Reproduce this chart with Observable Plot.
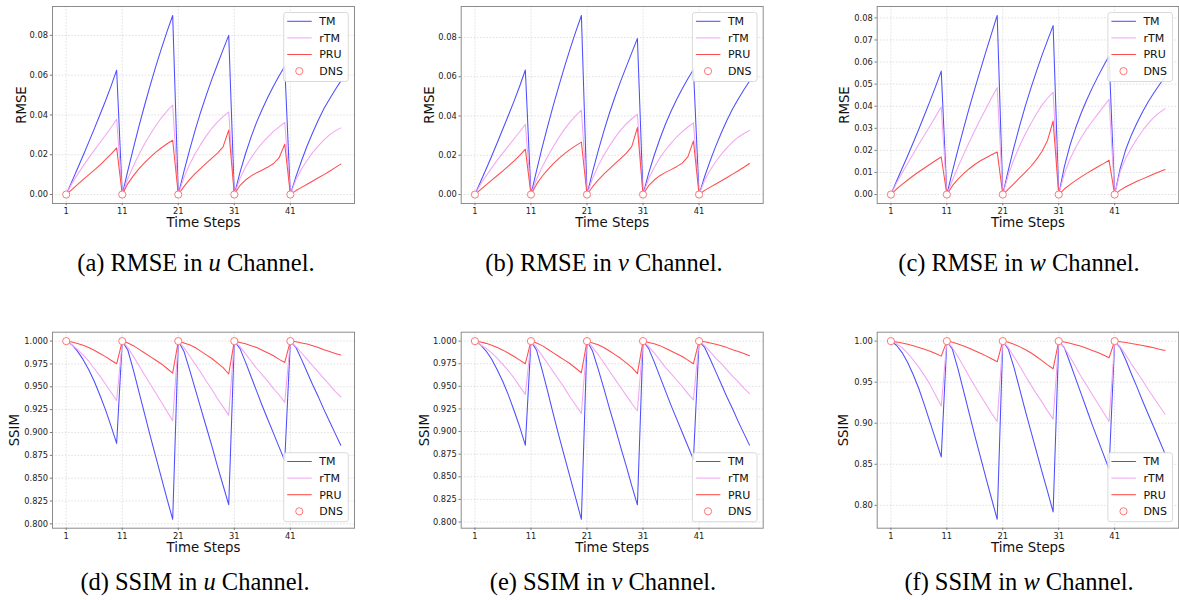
<!DOCTYPE html>
<html><head><meta charset="utf-8">
<script src="https://cdn.jsdelivr.net/npm/d3@7"></script>
<script src="https://cdn.jsdelivr.net/npm/@observablehq/plot@0.6"></script>
<style>
body{margin:0;background:#fff;}
#root{position:relative;width:1179px;height:600px;overflow:hidden;background:#fff;}
#root > svg{position:absolute;}
</style></head><body><div id="root"></div>
<script>
const steps = [1,2,3,4,5,6,7,8,9,10,11,12,13,14,15,16,17,18,19,20,21,22,23,24,25,26,27,28,29,30,31,32,33,34,35,36,37,38,39,40,41,42,43,44,45,46,47,48,49,50];
const xTicks = [1, 11, 21, 31, 41];
const seriesNames = ["TM", "rTM", "PRU", "DNS"];
const dnsSteps = [1, 11, 21, 31, 41];
const dnsRmse = [0, 0, 0, 0, 0];
const dnsSsim = [1, 1, 1, 1, 1];

const yTicksRmse = [0, 0.02, 0.04, 0.06, 0.08];
const yTicksRmseW = [0, 0.01, 0.02, 0.03, 0.04, 0.05, 0.06, 0.07, 0.08];
const yTicksSsim = [0.8, 0.825, 0.85, 0.875, 0.9, 0.925, 0.95, 0.975, 1.0];
const yTicksSsimW = [0.8, 0.85, 0.9, 0.95, 1.0];

const tmRmseU = [
0, 0.0065, 0.0130, 0.0195, 0.0262, 0.0330, 0.0400, 0.0470, 0.0545, 0.0625,
0, 0.0120, 0.0235, 0.0345, 0.0450, 0.0550, 0.0645, 0.0735, 0.0820, 0.0900,
0, 0.0115, 0.0222, 0.0322, 0.0415, 0.0500, 0.0580, 0.0655, 0.0728, 0.0800,
0, 0.0110, 0.0205, 0.0290, 0.0365, 0.0430, 0.0490, 0.0545, 0.0597, 0.0645,
0, 0.0090, 0.0170, 0.0245, 0.0312, 0.0375, 0.0432, 0.0480, 0.0527, 0.0570];
const rtmRmseU = [
0, 0.0055, 0.0100, 0.0143, 0.0183, 0.0222, 0.0260, 0.0298, 0.0337, 0.0378,
0, 0.0080, 0.0145, 0.0203, 0.0255, 0.0303, 0.0347, 0.0387, 0.0420, 0.0450,
0, 0.0085, 0.0150, 0.0205, 0.0252, 0.0295, 0.0333, 0.0365, 0.0392, 0.0415,
0, 0.0080, 0.0138, 0.0185, 0.0225, 0.0260, 0.0290, 0.0317, 0.0340, 0.0362,
0, 0.0075, 0.0128, 0.0172, 0.0212, 0.0245, 0.0275, 0.0300, 0.0320, 0.0335];
const pruRmseU = [
0, 0.0025, 0.0050, 0.0075, 0.0099, 0.0123, 0.0148, 0.0175, 0.0203, 0.0235,
0, 0.0055, 0.0095, 0.0130, 0.0160, 0.0188, 0.0213, 0.0235, 0.0255, 0.0273,
0, 0.0040, 0.0075, 0.0105, 0.0132, 0.0158, 0.0183, 0.0208, 0.0240, 0.0324,
0, 0.0045, 0.0073, 0.0094, 0.0110, 0.0123, 0.0138, 0.0156, 0.0185, 0.0253,
0, 0.0020, 0.0036, 0.0052, 0.0068, 0.0084, 0.0100, 0.0117, 0.0135, 0.0153];

const tmRmseV = [
0, 0.0065, 0.0130, 0.0196, 0.0265, 0.0335, 0.0405, 0.0477, 0.0553, 0.0634,
0, 0.0122, 0.0240, 0.0350, 0.0455, 0.0555, 0.0651, 0.0743, 0.0830, 0.0912,
0, 0.0115, 0.0222, 0.0322, 0.0414, 0.0498, 0.0576, 0.0650, 0.0723, 0.0795,
0, 0.0108, 0.0200, 0.0283, 0.0358, 0.0424, 0.0484, 0.0539, 0.0590, 0.0637,
0, 0.0092, 0.0173, 0.0248, 0.0316, 0.0380, 0.0437, 0.0487, 0.0534, 0.0577];
const rtmRmseV = [
0, 0.0052, 0.0095, 0.0136, 0.0175, 0.0212, 0.0248, 0.0284, 0.0320, 0.0358,
0, 0.0078, 0.0140, 0.0195, 0.0245, 0.0291, 0.0333, 0.0370, 0.0402, 0.0430,
0, 0.0082, 0.0146, 0.0200, 0.0247, 0.0290, 0.0328, 0.0360, 0.0386, 0.0409,
0, 0.0080, 0.0138, 0.0186, 0.0227, 0.0262, 0.0293, 0.0320, 0.0344, 0.0365,
0, 0.0073, 0.0125, 0.0168, 0.0206, 0.0239, 0.0268, 0.0292, 0.0311, 0.0326];
const pruRmseV = [
0, 0.0025, 0.0049, 0.0073, 0.0097, 0.0121, 0.0146, 0.0172, 0.0200, 0.0231,
0, 0.0053, 0.0093, 0.0127, 0.0157, 0.0184, 0.0208, 0.0230, 0.0249, 0.0267,
0, 0.0040, 0.0074, 0.0104, 0.0131, 0.0157, 0.0183, 0.0210, 0.0245, 0.0341,
0, 0.0045, 0.0074, 0.0096, 0.0113, 0.0127, 0.0142, 0.0160, 0.0192, 0.0273,
0, 0.0021, 0.0038, 0.0054, 0.0070, 0.0087, 0.0104, 0.0121, 0.0139, 0.0158];

const tmRmseW = [
0, 0.0060, 0.0118, 0.0176, 0.0236, 0.0297, 0.0360, 0.0424, 0.0490, 0.0559,
0, 0.0105, 0.0205, 0.0300, 0.0392, 0.0480, 0.0565, 0.0648, 0.0730, 0.0811,
0, 0.0112, 0.0215, 0.0310, 0.0398, 0.0480, 0.0557, 0.0630, 0.0698, 0.0765,
0, 0.0125, 0.0222, 0.0300, 0.0368, 0.0428, 0.0483, 0.0534, 0.0582, 0.0627,
0, 0.0120, 0.0205, 0.0270, 0.0325, 0.0375, 0.0420, 0.0460, 0.0497, 0.0532];
const rtmRmseW = [
0, 0.0052, 0.0098, 0.0142, 0.0185, 0.0228, 0.0270, 0.0312, 0.0354, 0.0396,
0, 0.0065, 0.0125, 0.0182, 0.0237, 0.0290, 0.0341, 0.0390, 0.0438, 0.0484,
0, 0.0090, 0.0160, 0.0220, 0.0273, 0.0321, 0.0365, 0.0405, 0.0436, 0.0464,
0, 0.0095, 0.0160, 0.0212, 0.0257, 0.0297, 0.0332, 0.0365, 0.0398, 0.0431,
0, 0.0105, 0.0165, 0.0212, 0.0253, 0.0290, 0.0322, 0.0349, 0.0371, 0.0389];
const pruRmseW = [
0, 0.0025, 0.0046, 0.0066, 0.0085, 0.0103, 0.0120, 0.0137, 0.0154, 0.0170,
0, 0.0040, 0.0070, 0.0095, 0.0117, 0.0136, 0.0153, 0.0167, 0.0180, 0.0193,
0, 0.0025, 0.0050, 0.0075, 0.0100, 0.0127, 0.0158, 0.0195, 0.0245, 0.0333,
0, 0.0025, 0.0045, 0.0063, 0.0080, 0.0096, 0.0111, 0.0126, 0.0140, 0.0155,
0, 0.0020, 0.0035, 0.0048, 0.0060, 0.0071, 0.0082, 0.0093, 0.0103, 0.0113];

const tmSsimU = [
1, 0.996, 0.989, 0.980, 0.969, 0.956, 0.941, 0.925, 0.907, 0.888,
1, 0.990, 0.968, 0.944, 0.920, 0.896, 0.873, 0.850, 0.827, 0.805,
1, 0.989, 0.969, 0.948, 0.927, 0.906, 0.885, 0.863, 0.842, 0.821,
1, 0.992, 0.977, 0.961, 0.945, 0.929, 0.914, 0.899, 0.884, 0.869,
1, 0.993, 0.980, 0.966, 0.952, 0.939, 0.925, 0.912, 0.899, 0.886];
const rtmSsimU = [
1, 0.996, 0.991, 0.985, 0.978, 0.970, 0.962, 0.953, 0.944, 0.935,
1, 0.993, 0.983, 0.973, 0.963, 0.953, 0.943, 0.933, 0.923, 0.913,
1, 0.993, 0.984, 0.975, 0.966, 0.956, 0.947, 0.937, 0.928, 0.919,
1, 0.994, 0.986, 0.978, 0.970, 0.963, 0.956, 0.948, 0.941, 0.933,
1, 0.994, 0.987, 0.980, 0.973, 0.966, 0.959, 0.952, 0.945, 0.939];
const pruSsimU = [
1, 0.9990, 0.9975, 0.9955, 0.9930, 0.9900, 0.9865, 0.9830, 0.9790, 0.9752,
1, 0.9980, 0.9950, 0.9910, 0.9870, 0.9830, 0.9790, 0.9750, 0.9700, 0.9650,
1, 0.9980, 0.9960, 0.9930, 0.9890, 0.9850, 0.9810, 0.9760, 0.9710, 0.9640,
1, 0.9985, 0.9970, 0.9950, 0.9930, 0.9900, 0.9870, 0.9840, 0.9800, 0.9766,
1, 0.9992, 0.9980, 0.9968, 0.9950, 0.9930, 0.9905, 0.9885, 0.9865, 0.9847];

const tmSsimV = [
1, 0.996, 0.989, 0.980, 0.968, 0.955, 0.940, 0.923, 0.905, 0.885,
1, 0.990, 0.968, 0.944, 0.919, 0.895, 0.872, 0.849, 0.826, 0.803,
1, 0.989, 0.969, 0.948, 0.926, 0.905, 0.883, 0.862, 0.840, 0.819,
1, 0.992, 0.977, 0.961, 0.945, 0.929, 0.914, 0.899, 0.884, 0.869,
1, 0.993, 0.980, 0.966, 0.952, 0.938, 0.925, 0.911, 0.898, 0.885];
const rtmSsimV = [
1, 0.996, 0.992, 0.987, 0.981, 0.974, 0.967, 0.959, 0.950, 0.941,
1, 0.993, 0.984, 0.975, 0.966, 0.957, 0.948, 0.938, 0.929, 0.920,
1, 0.993, 0.985, 0.976, 0.967, 0.958, 0.949, 0.940, 0.931, 0.923,
1, 0.994, 0.987, 0.979, 0.971, 0.964, 0.957, 0.950, 0.942, 0.935,
1, 0.995, 0.988, 0.981, 0.975, 0.968, 0.961, 0.955, 0.948, 0.942];
const pruSsimV = [
1, 0.9990, 0.9975, 0.9955, 0.9930, 0.9900, 0.9865, 0.9830, 0.9790, 0.9750,
1, 0.9980, 0.9950, 0.9910, 0.9870, 0.9830, 0.9790, 0.9750, 0.9700, 0.9650,
1, 0.9980, 0.9960, 0.9930, 0.9890, 0.9850, 0.9810, 0.9760, 0.9710, 0.9640,
1, 0.9985, 0.9970, 0.9950, 0.9920, 0.9890, 0.9860, 0.9830, 0.9790, 0.9750,
1, 0.9992, 0.9980, 0.9965, 0.9948, 0.9928, 0.9905, 0.9885, 0.9862, 0.9838];

const tmSsimW = [
1, 0.995, 0.986, 0.974, 0.959, 0.942, 0.922, 0.901, 0.880, 0.859,
1, 0.990, 0.966, 0.939, 0.912, 0.885, 0.859, 0.833, 0.808, 0.783,
1, 0.990, 0.968, 0.942, 0.916, 0.891, 0.866, 0.841, 0.817, 0.792,
1, 0.992, 0.974, 0.955, 0.936, 0.917, 0.898, 0.880, 0.862, 0.844,
1, 0.992, 0.977, 0.960, 0.944, 0.927, 0.911, 0.895, 0.879, 0.863];
const rtmSsimW = [
1, 0.997, 0.992, 0.985, 0.977, 0.968, 0.958, 0.947, 0.934, 0.921,
1, 0.992, 0.981, 0.969, 0.957, 0.945, 0.934, 0.923, 0.912, 0.902,
1, 0.992, 0.981, 0.970, 0.958, 0.947, 0.936, 0.926, 0.915, 0.905,
1, 0.992, 0.981, 0.969, 0.957, 0.946, 0.935, 0.924, 0.913, 0.902,
1, 0.993, 0.983, 0.972, 0.962, 0.952, 0.941, 0.931, 0.921, 0.911];
const pruSsimW = [
1, 0.9990, 0.9978, 0.9962, 0.9943, 0.9922, 0.9900, 0.9876, 0.9848, 0.9817,
1, 0.9985, 0.9965, 0.9940, 0.9913, 0.9883, 0.9852, 0.9820, 0.9785, 0.9748,
1, 0.9985, 0.9962, 0.9933, 0.9898, 0.9858, 0.9813, 0.9763, 0.9710, 0.9663,
1, 0.9990, 0.9975, 0.9957, 0.9937, 0.9913, 0.9887, 0.9860, 0.9830, 0.9797,
1, 0.9993, 0.9983, 0.9972, 0.9960, 0.9947, 0.9933, 0.9918, 0.9902, 0.9886];

const captions = [
  ["(a)", "RMSE in ", "u", " Channel."],
  ["(b)", "RMSE in ", "v", " Channel."],
  ["(c)", "RMSE in ", "w", " Channel."],
  ["(d)", "SSIM in ", "u", " Channel."],
  ["(e)", "SSIM in ", "v", " Channel."],
  ["(f)", "SSIM in ", "w", " Channel."]
];

const colors = {TM: "#4d4dff", rTM: "#f2a6f2", PRU: "#ff4d4d", DNS: "#ff7777"};

const panels = [
  {metric:"RMSE", tm:tmRmseU, rtm:rtmRmseU, pru:pruRmseU, dns:dnsRmse, yTicks:yTicksRmse, fmt:".2f", legend:"top",
   left:0, top:0, width:360, height:240, mL:52, mR:6, mT:6, mB:37, yLab:31, capX:196, capY:271},
  {metric:"RMSE", tm:tmRmseV, rtm:rtmRmseV, pru:pruRmseV, dns:dnsRmse, yTicks:yTicksRmse, fmt:".2f", legend:"top",
   left:408, top:0, width:360, height:240, mL:52.7, mR:5.3, mT:6, mB:37, yLab:31.4, capX:604, capY:271},
  {metric:"RMSE", tm:tmRmseW, rtm:rtmRmseW, pru:pruRmseW, dns:dnsRmse, yTicks:yTicksRmseW, fmt:".2f", legend:"top",
   left:824, top:0, width:355, height:240, mL:52.7, mR:0.8, mT:6, mB:37, yLab:32, capX:1019, capY:271},
  {metric:"SSIM", tm:tmSsimU, rtm:rtmSsimU, pru:pruSsimU, dns:dnsSsim, yTicks:yTicksSsim, fmt:".3f", legend:"bottom",
   left:0, top:300, width:360, height:260, mL:52, mR:6, mT:31.7, mB:32.3, yLab:37.5, capX:195, capY:590},
  {metric:"SSIM", tm:tmSsimV, rtm:rtmSsimV, pru:pruSsimV, dns:dnsSsim, yTicks:yTicksSsim, fmt:".3f", legend:"bottom",
   left:408, top:300, width:360, height:260, mL:52.7, mR:5.3, mT:31.7, mB:32.3, yLab:36.6, capX:603, capY:590},
  {metric:"SSIM", tm:tmSsimW, rtm:rtmSsimW, pru:pruSsimW, dns:dnsSsim, yTicks:yTicksSsimW, fmt:".2f", legend:"bottom",
   left:824, top:300, width:355, height:260, mL:52.7, mR:0.8, mT:31.7, mB:32.3, yLab:33, capX:1019, capY:590}
];

const root = document.getElementById("root");
const gridStyle = {stroke:"#b8b8b8", strokeOpacity:0.7, strokeWidth:0.6, strokeDasharray:"1.6,1.6"};

panels.forEach((p) => {
  const data = steps.map((s, i) => ({step:s, tm:p.tm[i], rtm:p.rtm[i], pru:p.pru[i]}));
  const dnsData = dnsSteps.map((s, i) => ({step:s, v:p.dns[i]}));
  const all = [...p.tm, ...p.rtm, ...p.pru, ...p.dns];
  const lo = d3.min(all), hi = d3.max(all), pad = (hi - lo) * 0.05;
  const xlo = d3.min(steps), xhi = d3.max(steps), xpad = (xhi - xlo) * 0.05;
  const chart = Plot.plot({
    width:p.width, height:p.height,
    marginLeft:p.mL, marginRight:p.mR, marginTop:p.mT, marginBottom:p.mB,
    style:{fontFamily:"DejaVu Sans", background:"transparent", overflow:"visible"},
    x:{domain:[xlo - xpad, xhi + xpad]},
    y:{domain:[lo - pad, hi + pad]},
    marks:[
      Plot.gridX(xTicks, gridStyle),
      Plot.gridY(p.yTicks, gridStyle),
      Plot.line(data, {x:"step", y:"tm", stroke:colors.TM, strokeWidth:1.05}),
      Plot.line(data, {x:"step", y:"rtm", stroke:colors.rTM, strokeWidth:1.05}),
      Plot.line(data, {x:"step", y:"pru", stroke:colors.PRU, strokeWidth:1.05}),
      Plot.dot(dnsData, {x:"step", y:"v", r:3.6, stroke:colors.DNS, fill:"white", strokeWidth:1}),
      Plot.frame({stroke:"#8c8c8c", strokeWidth:1}),
      Plot.axisX(xTicks, {tickSize:2.2, tickPadding:2.3, fontSize:8.3, label:null, stroke:"#777", fill:"#222", tickFormat:d => String(d)}),
      Plot.axisY(p.yTicks, {tickSize:2.2, tickPadding:2.3, fontSize:8.3, label:null, stroke:"#777", fill:"#222", tickFormat:d3.format(p.fmt)}),
      Plot.text(["Time Steps"], {frameAnchor:"bottom", dy:19.6, text:d => d, fontSize:13.3, fill:"#111", textAnchor:"middle", lineAnchor:"middle"}),
      Plot.text([p.metric], {frameAnchor:"left", dx:-p.yLab, rotate:-90, text:d => d, fontSize:13.3, fill:"#111", textAnchor:"middle", lineAnchor:"middle"})
    ]
  });
  chart.style.left = p.left + "px";
  chart.style.top = p.top + "px";
  chart.style.position = "absolute";
  root.appendChild(chart);

  // legend
  const svg = d3.select(chart);
  const bw = 64.6, bh = 69;
  const frameRight = p.width - p.mR;
  const bx = frameRight - 5.7 - bw;
  const by = p.legend === "top" ? p.mT + 6.5 : p.height - p.mB - 6 - bh;
  const g = svg.append("g").attr("transform", `translate(${bx},${by})`).attr("text-anchor", "start");
  g.append("rect").attr("width", bw).attr("height", bh).attr("rx", 2.5)
    .attr("fill", "white").attr("fill-opacity", 0.85).attr("stroke", "#d6d6d6").attr("stroke-width", 0.9);
  seriesNames.forEach((name, i) => {
    const yy = 8.8 + 16.6 * i;
    if (name === "DNS") {
      g.append("circle").attr("cx", 15.6).attr("cy", yy).attr("r", 3.6)
        .attr("fill", "white").attr("stroke", colors.DNS).attr("stroke-width", 1);
    } else {
      g.append("line").attr("x1", 3.5).attr("x2", 28).attr("y1", yy).attr("y2", yy)
        .attr("stroke", colors[name]).attr("stroke-width", 1.05);
    }
    g.append("text").attr("x", 35.5).attr("y", yy).attr("dy", "0.36em").attr("text-anchor", "start")
      .attr("font-family", "DejaVu Sans").attr("font-size", 11).attr("fill", "#111").text(name);
  });
});

// captions
const cap = d3.select(root).append("svg").attr("width", 1179).attr("height", 600)
  .style("left", "0px").style("top", "0px").style("pointer-events", "none");
panels.forEach((p, i) => {
  const c = captions[i];
  const t = cap.append("text").attr("x", p.capX).attr("y", p.capY).attr("text-anchor", "middle")
    .attr("font-family", "Liberation Serif, Times New Roman, serif").attr("font-size", 24.5).attr("fill", "#000");
  t.append("tspan").text(c[0]);
  t.append("tspan").attr("dx", 6).text(c[1]);
  t.append("tspan").attr("font-style", "italic").text(c[2]);
  t.append("tspan").text(c[3]);
});
</script></body></html>
